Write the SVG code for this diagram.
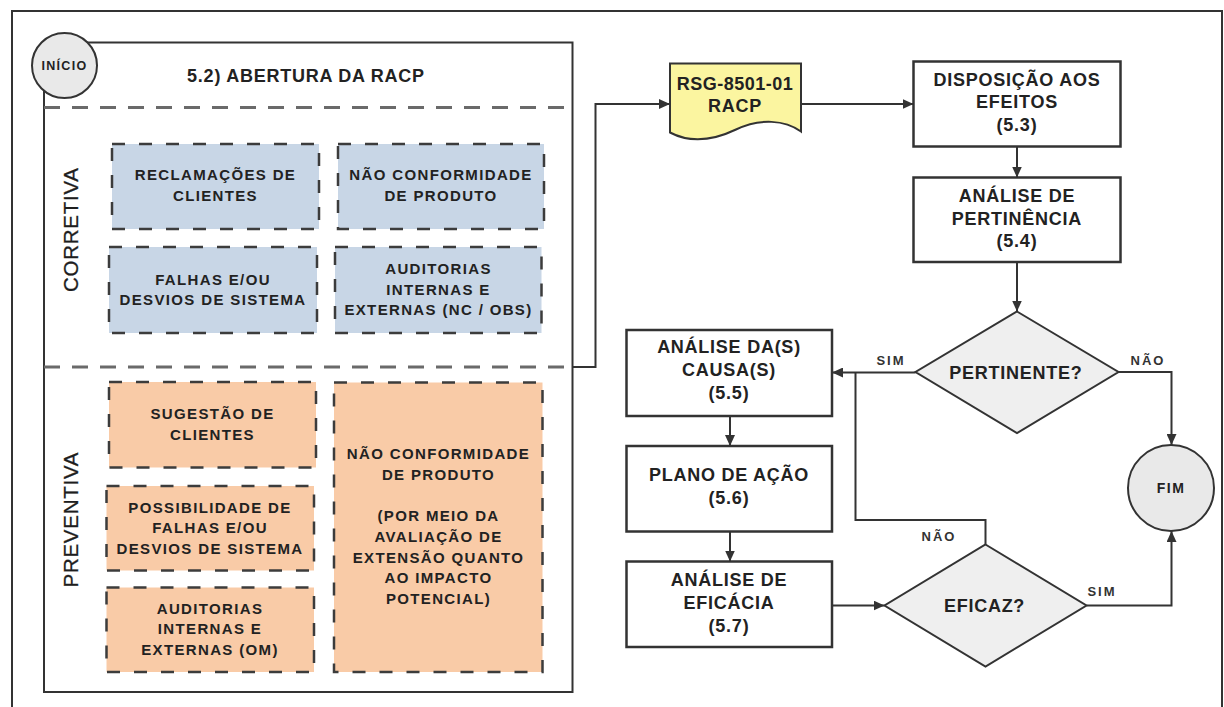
<svg xmlns="http://www.w3.org/2000/svg" width="1224" height="707" viewBox="0 0 1224 707">
  <style>
    .frame { fill: none; stroke: #333; stroke-width: 2; }
    .sep { fill: none; stroke: #6a6a6a; stroke-width: 3; stroke-dasharray: 16 12; }
    .blue { fill: #c8d6e6; stroke: #3c3c3c; stroke-width: 2.5; stroke-dasharray: 13 14; }
    .peach { fill: #f9cba7; stroke: #3c3c3c; stroke-width: 2.5; stroke-dasharray: 13 14; }
    .box { fill: #ffffff; stroke: #333; stroke-width: 2.5; }
    .dec { fill: #efefef; stroke: #333; stroke-width: 2; }
    .term { fill: #e9e9e9; stroke: #333; stroke-width: 2; }
    .doc { fill: #fbf5a0; stroke: #333; stroke-width: 2; }
    .link { fill: none; stroke: #333; stroke-width: 2; }
    text { font-family: "Liberation Sans", Arial, sans-serif; fill: #222; text-anchor: middle; }
    .s { font-size: 15px; font-weight: bold; letter-spacing: 1.35px; }
    .m { font-size: 18px; font-weight: bold; letter-spacing: 0.75px; }
    .lane { font-size: 20.5px; fill: #1e1e1e; stroke: #1e1e1e; stroke-width: 0.3; }
    .lbl { font-size: 13px; font-weight: bold; letter-spacing: 2px; fill: #333; }
  </style>
  <defs>
    <marker id="arrow" markerUnits="userSpaceOnUse" markerWidth="11" markerHeight="10" refX="11" refY="5" orient="auto">
      <path d="M0,0 L11,5 L0,10 z" fill="#333"/>
    </marker>
  </defs>

  <!-- page frame -->
  <rect class="frame" x="12" y="11" width="1210" height="720"/>

  <!-- 5.2 opening section -->
  <g id="abertura">
    <rect class="frame" x="44" y="42.5" width="528.5" height="649.5"/>
    <text class="m" x="306" y="82">5.2) ABERTURA DA RACP</text>
    <line class="sep" x1="44" y1="107.5" x2="572" y2="107.5"/>
    <line class="sep" x1="44" y1="367" x2="572" y2="367"/>
    <text class="lane" x="78" y="230" transform="rotate(-90 78 230)" textLength="124" lengthAdjust="spacing">CORRETIVA</text>
    <text class="lane" x="78" y="520" transform="rotate(-90 78 520)" textLength="135" lengthAdjust="spacing">PREVENTIVA</text>
  </g>

  <g id="inicio">
    <circle class="term" cx="64.5" cy="65.5" r="32.5"/>
    <text x="64.5" y="70" style="font-size:12.5px;font-weight:bold;letter-spacing:1.3px">INÍCIO</text>
  </g>

  <!-- corrective sources -->
  <g id="reclamacoes">
    <rect class="blue" x="112" y="144" width="207" height="85"/>
    <text class="s" x="215.5" y="180">RECLAMAÇÕES DE</text>
    <text class="s" x="215.5" y="201">CLIENTES</text>
  </g>
  <g id="nc-produto">
    <rect class="blue" x="338" y="144" width="206" height="85"/>
    <text class="s" x="441" y="180">NÃO CONFORMIDADE</text>
    <text class="s" x="441" y="201">DE PRODUTO</text>
  </g>
  <g id="falhas">
    <rect class="blue" x="109" y="247" width="208" height="86"/>
    <text class="s" x="213" y="285">FALHAS E/OU</text>
    <text class="s" x="213" y="305">DESVIOS DE SISTEMA</text>
  </g>
  <g id="auditorias-nc">
    <rect class="blue" x="335" y="247" width="206.5" height="86"/>
    <text class="s" x="438.5" y="273.5">AUDITORIAS</text>
    <text class="s" x="438.5" y="294.5">INTERNAS E</text>
    <text class="s" x="438.5" y="315">EXTERNAS (NC / OBS)</text>
  </g>

  <!-- preventive sources -->
  <g id="sugestao">
    <rect class="peach" x="109" y="382" width="207" height="85.5"/>
    <text class="s" x="212.5" y="419">SUGESTÃO DE</text>
    <text class="s" x="212.5" y="439.5">CLIENTES</text>
  </g>
  <g id="possibilidade">
    <rect class="peach" x="106.5" y="486" width="207.5" height="84.5"/>
    <text class="s" x="210" y="512.5">POSSIBILIDADE DE</text>
    <text class="s" x="210" y="533">FALHAS E/OU</text>
    <text class="s" x="210" y="553.5">DESVIOS DE SISTEMA</text>
  </g>
  <g id="auditorias-om">
    <rect class="peach" x="106.5" y="587.5" width="207.5" height="84.5"/>
    <text class="s" x="210" y="613.5">AUDITORIAS</text>
    <text class="s" x="210" y="634">INTERNAS E</text>
    <text class="s" x="210" y="654.5">EXTERNAS (OM)</text>
  </g>
  <g id="nc-impacto">
    <rect class="peach" x="334" y="382.5" width="208.5" height="289.5"/>
    <text class="s" x="438.5" y="459">NÃO CONFORMIDADE</text>
    <text class="s" x="438.5" y="480">DE PRODUTO</text>
    <text class="s" x="438.5" y="521">(POR MEIO DA</text>
    <text class="s" x="438.5" y="541.5">AVALIAÇÃO DE</text>
    <text class="s" x="438.5" y="562.5">EXTENSÃO QUANTO</text>
    <text class="s" x="438.5" y="583">AO IMPACTO</text>
    <text class="s" x="438.5" y="603.5">POTENCIAL)</text>
  </g>

  <!-- record document -->
  <g id="racp">
    <path class="doc" d="M670,63.5 H801 V131.5 C785,120 760,118 736,129.5 C712,141 690,143 670,132.5 Z"/>
    <text class="m" x="735" y="90" style="letter-spacing:0.5px">RSG-8501-01</text>
    <text class="m" x="735" y="111.5">RACP</text>
  </g>

  <!-- process steps -->
  <g id="disposicao">
    <rect class="box" x="913.5" y="61.5" width="207" height="85"/>
    <text class="m" x="1017" y="85.5">DISPOSIÇÃO AOS</text>
    <text class="m" x="1017" y="108">EFEITOS</text>
    <text class="m" x="1017" y="130.5">(5.3)</text>
  </g>
  <g id="pertinencia">
    <rect class="box" x="913.5" y="177.5" width="207" height="84.5"/>
    <text class="m" x="1017" y="201.5">ANÁLISE DE</text>
    <text class="m" x="1017" y="224.5">PERTINÊNCIA</text>
    <text class="m" x="1017" y="247">(5.4)</text>
  </g>
  <g id="pertinente">
    <polygon class="dec" points="1017,311.5 1118.5,372 1017,433 915.5,372"/>
    <text class="m" x="1016" y="378.5">PERTINENTE?</text>
  </g>
  <g id="causas">
    <rect class="box" x="626.5" y="330" width="205.5" height="86"/>
    <text class="m" x="729" y="353">ANÁLISE DA(S)</text>
    <text class="m" x="729" y="376">CAUSA(S)</text>
    <text class="m" x="729" y="399">(5.5)</text>
  </g>
  <g id="plano">
    <rect class="box" x="626.5" y="446" width="205.5" height="85.5"/>
    <text class="m" x="729" y="481">PLANO DE AÇÃO</text>
    <text class="m" x="729" y="504">(5.6)</text>
  </g>
  <g id="eficacia">
    <rect class="box" x="626.5" y="561.5" width="205.5" height="85.5"/>
    <text class="m" x="729" y="586">ANÁLISE DE</text>
    <text class="m" x="729" y="609">EFICÁCIA</text>
    <text class="m" x="729" y="632">(5.7)</text>
  </g>
  <g id="eficaz">
    <polygon class="dec" points="985.5,544.5 1086.5,605.5 985.5,666.5 884.5,605.5"/>
    <text class="m" x="984.5" y="611.5">EFICAZ?</text>
  </g>
  <g id="fim">
    <circle class="term" cx="1171" cy="488" r="43"/>
    <text x="1171" y="493" style="font-size:14px;font-weight:bold;letter-spacing:1.5px">FIM</text>
  </g>

  <!-- connectors -->
  <g id="connectors">
    <polyline class="link" points="572.5,367 595.5,367 595.5,104 670,104" marker-end="url(#arrow)"/>
    <line class="link" x1="801" y1="104" x2="913.5" y2="104" marker-end="url(#arrow)"/>
    <line class="link" x1="1017" y1="146.5" x2="1017" y2="177.5" marker-end="url(#arrow)"/>
    <line class="link" x1="1017" y1="262" x2="1017" y2="311.5" marker-end="url(#arrow)"/>
    <line class="link" x1="915.5" y1="372.5" x2="832" y2="372.5" marker-end="url(#arrow)"/>
    <polyline class="link" points="1118.5,372 1171.5,372 1171.5,445" marker-end="url(#arrow)"/>
    <line class="link" x1="730" y1="416" x2="730" y2="446" marker-end="url(#arrow)"/>
    <line class="link" x1="730" y1="531.5" x2="730" y2="561.5" marker-end="url(#arrow)"/>
    <line class="link" x1="832" y1="605.5" x2="884.5" y2="605.5" marker-end="url(#arrow)"/>
    <polyline class="link" points="985.5,544.5 985.5,520 855.5,520 855.5,372.5"/>
    <polyline class="link" points="1086.5,605.5 1171.5,605.5 1171.5,531" marker-end="url(#arrow)"/>
    <text class="lbl" x="891" y="365">SIM</text>
    <text class="lbl" x="1148" y="364.5">NÃO</text>
    <text class="lbl" x="939" y="540.5">NÃO</text>
    <text class="lbl" x="1102" y="596">SIM</text>
  </g>
</svg>
